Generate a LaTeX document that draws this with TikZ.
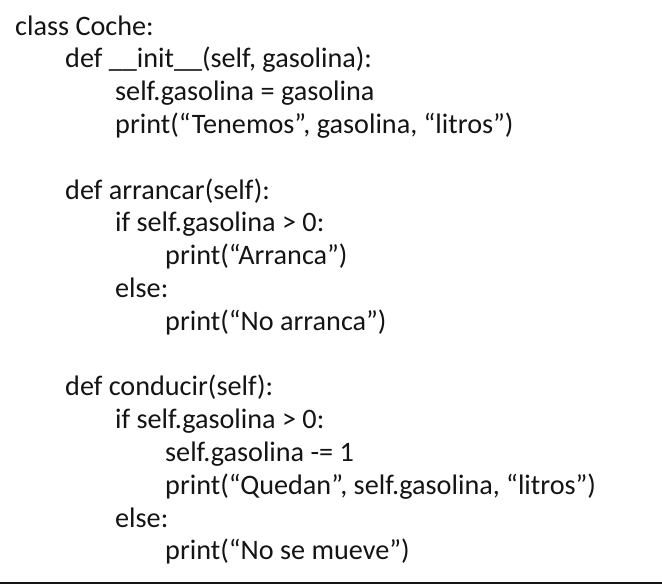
\documentclass[tikz,border=0pt]{standalone}
\usepackage{fontspec}
\setmainfont{Carlito}
\usetikzlibrary{positioning}
\definecolor{ink}{RGB}{20,20,20}

\tikzset{codeline/.style={anchor=base west, inner sep=0pt, text=ink,
  font=\fontsize{28.2}{32}\selectfont}}

\begin{document}
\begin{tikzpicture}[x=1pt,y=-1pt]
        \useasboundingbox (0,0) rectangle (662,584);
        % class body
        \node[codeline] (cls)   at (15,35)    {class Coche:};
        \node[codeline] (init)  at (65,67.8)  {def \_\_init\_\_(self, gasolina):};
        \node[codeline] (asig)  at (115,100.6) {self.gasolina = gasolina};
        \node[codeline] (tene)  at (115,133.4) {print(“Tenemos”, gasolina, “litros”)};
        % arrancar
        \node[codeline] (arr)   at (65,199)   {def arrancar(self):};
        \node[codeline] (ifa)   at (115,231.8) {if self.gasolina > 0:};
        \node[codeline] (pra)   at (165,264.6) {print(“Arranca”)};
        \node[codeline] (elsa)  at (115,297.4) {else:};
        \node[codeline] (prna)  at (165,330.2) {print(“No arranca”)};
        % conducir
        \node[codeline] (cond)  at (65,395.8) {def conducir(self):};
        \node[codeline] (ifc)   at (115,428.6) {if self.gasolina > 0:};
        \node[codeline] (resta) at (165,461.4) {self.gasolina -= 1};
        \node[codeline] (qued)  at (165,494.2) {print(“Quedan”, self.gasolina, “litros”)};
        \node[codeline] (elsc)  at (115,527)   {else:};
        \node[codeline] (prnm)  at (165,559.8) {print(“No se mueve”)};
        % rule under the box
        \coordinate (bl) at (0,582.5);
        \coordinate (br) at (662,582.5);
        \draw[ink, line width=2pt] (bl) -- (br);
    \end{tikzpicture}
\end{document}
